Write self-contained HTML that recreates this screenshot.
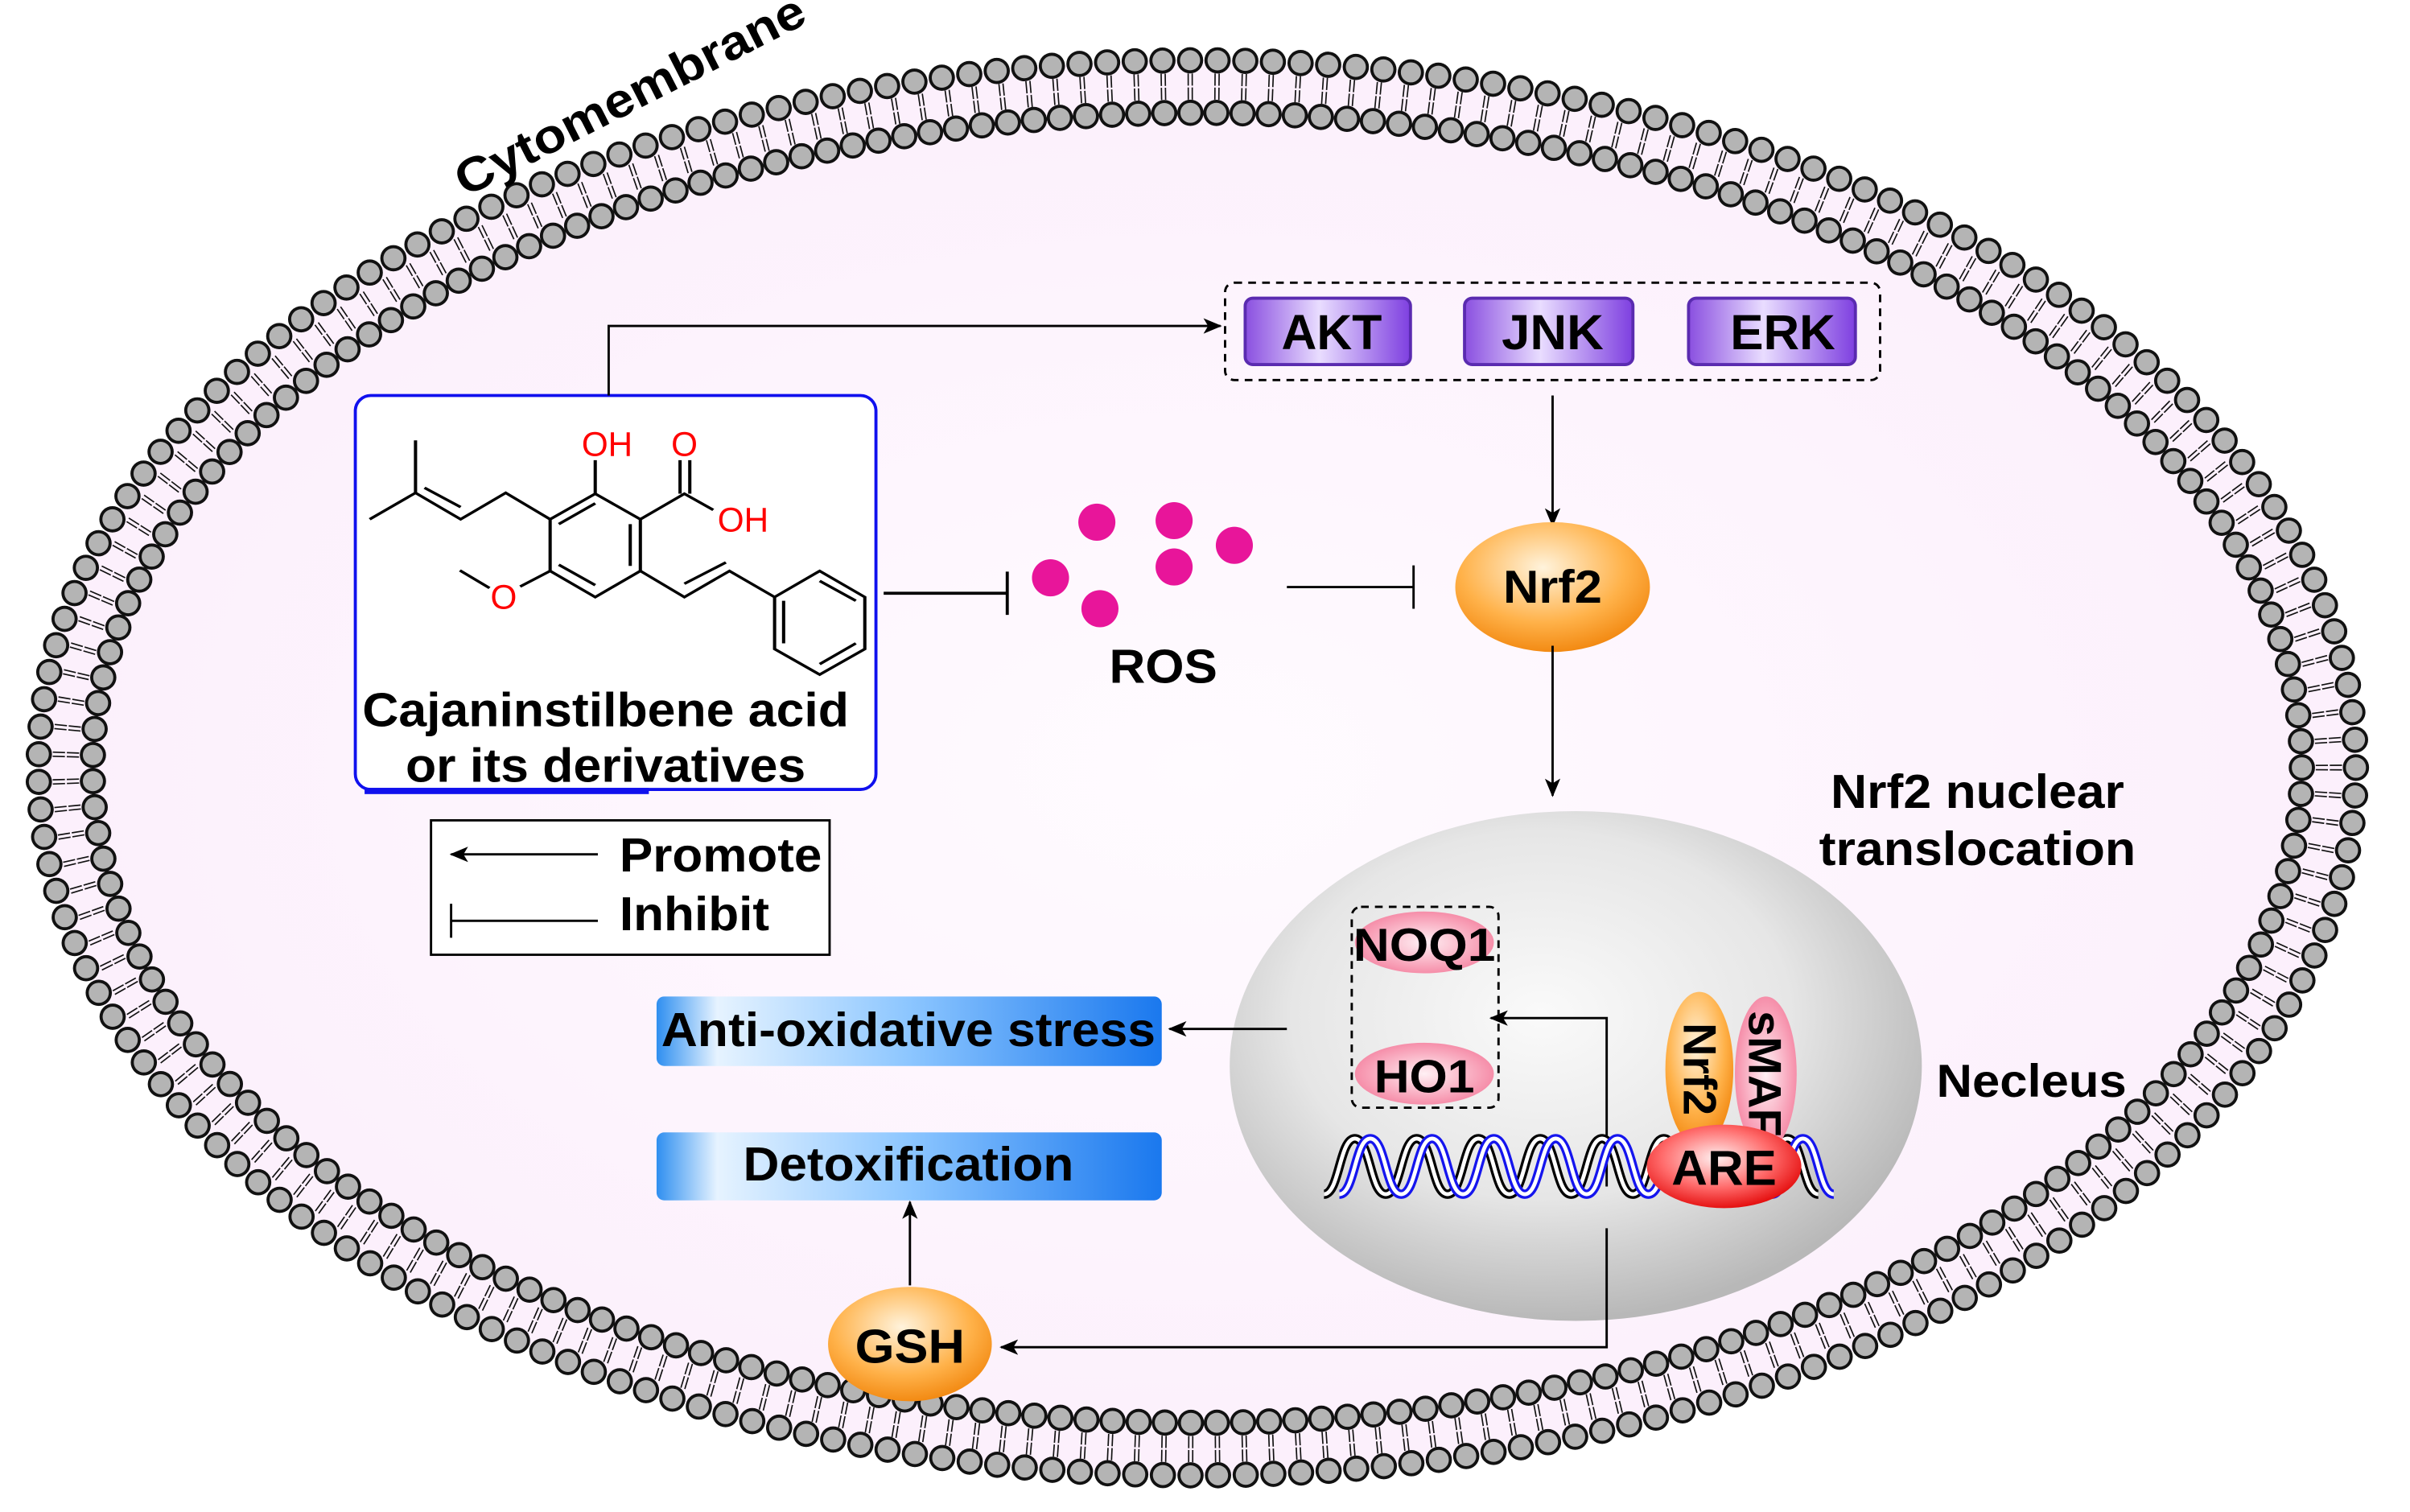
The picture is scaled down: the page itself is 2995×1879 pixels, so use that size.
<!DOCTYPE html>
<html><head><meta charset="utf-8"><style>
html,body{margin:0;padding:0;background:#fff}
svg{display:block}
text{font-family:"Liberation Sans",Arial,sans-serif;font-weight:bold}
</style></head><body>
<svg width="2995" height="1879" viewBox="0 0 1560 978.7" preserveAspectRatio="none" xmlns="http://www.w3.org/2000/svg">
<defs>
<linearGradient id="pur" x1="0" y1="0" x2="1" y2="0"><stop offset="0" stop-color="#8a4fe0"/><stop offset="0.45" stop-color="#e9ddff"/><stop offset="1" stop-color="#7e3fe0"/></linearGradient>
<radialGradient id="org" cx="0.45" cy="0.35" r="0.7"><stop offset="0" stop-color="#fff3dc"/><stop offset="0.6" stop-color="#ffb24a"/><stop offset="1" stop-color="#f08208"/></radialGradient>
<radialGradient id="pink" cx="0.5" cy="0.5" r="0.6"><stop offset="0" stop-color="#fff0f4"/><stop offset="1" stop-color="#f47a9a"/></radialGradient>
<radialGradient id="red" cx="0.45" cy="0.4" r="0.65"><stop offset="0" stop-color="#fff0f0"/><stop offset="0.55" stop-color="#ff6a6a"/><stop offset="1" stop-color="#e00000"/></radialGradient>
<radialGradient id="nuc" cx="0.45" cy="0.4" r="0.6"><stop offset="0" stop-color="#fafafa"/><stop offset="0.6" stop-color="#e6e6e6"/><stop offset="1" stop-color="#b8b8b8"/></radialGradient>
<radialGradient id="cell" cx="0.5" cy="0.5" r="0.5"><stop offset="0" stop-color="#fffbff"/><stop offset="1" stop-color="#fcf0fc"/></radialGradient>
<linearGradient id="blu" x1="0" y1="0" x2="1" y2="0"><stop offset="0" stop-color="#2f8ff0"/><stop offset="0.12" stop-color="#e6f3ff"/><stop offset="0.5" stop-color="#8cc6ff"/><stop offset="1" stop-color="#1a78ee"/></linearGradient>
<marker id="ar" markerWidth="12" markerHeight="10" refX="11" refY="5" orient="auto" markerUnits="userSpaceOnUse"><path d="M0,0 L12,5 L0,10 L3,5 Z" fill="#000"/></marker>
</defs>
<rect width="1560" height="978.7" fill="#fff"/>
<!-- cell interior -->
<ellipse cx="775" cy="497" rx="750" ry="458" fill="url(#cell)"/>
<!-- tails -->
<ellipse cx="775" cy="497" rx="732.5" ry="441" fill="none" stroke="#111" stroke-width="17" pathLength="215" stroke-dasharray="0.05 0.1 0.05 0.8" stroke-dashoffset="0.1"/>
<ellipse cx="775" cy="497" rx="732.5" ry="441" fill="none" stroke="#fcf0fc" stroke-width="1.2" pathLength="215"/>
<!-- beads -->
<ellipse cx="775" cy="497" rx="750" ry="458" fill="none" stroke="#111" stroke-width="17" stroke-linecap="round" pathLength="215" stroke-dasharray="0 1"/>
<ellipse cx="775" cy="497" rx="750" ry="458" fill="none" stroke="#b4b4b4" stroke-width="13" stroke-linecap="round" pathLength="215" stroke-dasharray="0 1"/>
<ellipse cx="775" cy="497" rx="715" ry="424" fill="none" stroke="#111" stroke-width="17" stroke-linecap="round" pathLength="215" stroke-dasharray="0 1"/>
<ellipse cx="775" cy="497" rx="715" ry="424" fill="none" stroke="#b4b4b4" stroke-width="13" stroke-linecap="round" pathLength="215" stroke-dasharray="0 1"/>
<text x="408" y="72" font-size="31" text-anchor="middle" textLength="250" lengthAdjust="spacingAndGlyphs" transform="rotate(-27 408 62)">Cytomembrane</text>

<!-- compound box -->
<rect x="230" y="256" width="337" height="255" rx="10" fill="#fff" stroke="#1010ee" stroke-width="2"/>
<rect x="236" y="510" width="184" height="4" fill="#1010ee"/>
<g transform="translate(209.4,235.4) scale(0.2336,0.1838)" stroke="#000" stroke-width="9" fill="none">
<path d="M255,270 L255,455 L128,548 M255,455 L380,548 L505,455 L628,548 M280,437 L380,505"/>
<path d="M628,548 L753,458 L878,548 L878,730 L753,822 L628,730 Z M652,565 L753,492 M850,565 L850,712 M652,708 L753,780"/>
<path d="M753,458 L753,340 M878,548 L1000,458 L1080,515 M988,340 L988,458 M1015,340 L1015,458"/>
<path d="M628,730 L545,785 M460,790 L378,728"/>
<path d="M878,730 L1000,822 L1125,730 L1250,822 M1000,775 L1115,700"/>
<path d="M1250,822 L1375,730 L1500,822 L1500,1005 L1375,1095 L1250,1005 Z M1375,765 L1475,835 M1275,835 L1275,985 M1375,1058 L1475,985"/>
</g>
<g fill="#f00" style="font-weight:normal">
<text x="393" y="295" font-size="22" text-anchor="middle" style="font-weight:normal">OH</text>
<text x="443" y="295" font-size="22" text-anchor="middle" style="font-weight:normal">O</text>
<text x="481" y="344" font-size="22" text-anchor="middle" style="font-weight:normal">OH</text>
<text x="326" y="394" font-size="22" text-anchor="middle" style="font-weight:normal">O</text>
</g>
<text x="392" y="470" font-size="31" text-anchor="middle" textLength="315" lengthAdjust="spacingAndGlyphs">Cajaninstilbene acid</text>
<text x="392" y="506" font-size="31" text-anchor="middle" textLength="259" lengthAdjust="spacingAndGlyphs">or its derivatives</text>

<!-- connectors top -->
<path d="M394,256 L394,211 L790,211" fill="none" stroke="#000" stroke-width="1.5" marker-end="url(#ar)"/>
<rect x="793" y="183" width="424" height="63" rx="6" fill="none" stroke="#000" stroke-width="1.5" stroke-dasharray="5 4"/>
<g stroke="#5a2bb0" stroke-width="2">
<rect x="806" y="193" width="107" height="43" rx="5" fill="url(#pur)"/>
<rect x="948" y="193" width="109" height="43" rx="5" fill="url(#pur)"/>
<rect x="1093" y="193" width="108" height="43" rx="5" fill="url(#pur)"/>
</g>
<text x="862" y="226" font-size="32" text-anchor="middle" textLength="65" lengthAdjust="spacingAndGlyphs">AKT</text>
<text x="1005" y="226" font-size="32" text-anchor="middle" textLength="66" lengthAdjust="spacingAndGlyphs">JNK</text>
<text x="1154" y="226" font-size="32" text-anchor="middle" textLength="68" lengthAdjust="spacingAndGlyphs">ERK</text>
<path d="M1005,256 L1005,340" stroke="#000" stroke-width="1.5" marker-end="url(#ar)"/>
<ellipse cx="1005" cy="380" rx="63" ry="42" fill="url(#org)"/>
<text x="1005" y="390" font-size="30" text-anchor="middle" textLength="64" lengthAdjust="spacingAndGlyphs">Nrf2</text>
<path d="M1005,418 L1005,515" stroke="#000" stroke-width="1.5" marker-end="url(#ar)"/>

<!-- inhibit lines & ROS -->
<path d="M572,384 L652,384 M652,370 L652,398" stroke="#000" stroke-width="2" fill="none"/>
<g fill="#e8159a">
<circle cx="710" cy="338" r="12"/><circle cx="760" cy="337" r="12"/><circle cx="799" cy="353" r="12"/>
<circle cx="680" cy="374" r="12"/><circle cx="760" cy="367" r="12"/><circle cx="712" cy="394" r="12"/>
</g>
<text x="753" y="442" font-size="31" text-anchor="middle" textLength="70" lengthAdjust="spacingAndGlyphs">ROS</text>
<path d="M833,380 L915,380 M915,366 L915,394" stroke="#000" stroke-width="1.5" fill="none"/>

<text x="1280" y="523" font-size="31" text-anchor="middle" textLength="190" lengthAdjust="spacingAndGlyphs">Nrf2 nuclear</text>
<text x="1280" y="560" font-size="31" text-anchor="middle" textLength="205" lengthAdjust="spacingAndGlyphs">translocation</text>

<!-- legend -->
<rect x="279" y="531" width="258" height="87" fill="#fff" stroke="#000" stroke-width="1.5"/>
<path d="M387,553 L292,553" stroke="#000" stroke-width="1.5" marker-end="url(#ar)"/>
<path d="M387,596 L292,596 M292,585 L292,607" stroke="#000" stroke-width="1.5" fill="none"/>
<text x="401" y="564" font-size="31" textLength="131" lengthAdjust="spacingAndGlyphs">Promote</text>
<text x="401" y="602" font-size="31" textLength="97" lengthAdjust="spacingAndGlyphs">Inhibit</text>

<!-- nucleus -->
<ellipse cx="1020" cy="690" rx="224" ry="165" fill="url(#nuc)"/>
<rect x="875" y="587" width="95" height="130" rx="6" fill="none" stroke="#000" stroke-width="1.5" stroke-dasharray="5 4"/>
<ellipse cx="922" cy="610" rx="45" ry="20" fill="url(#pink)"/>
<text x="922" y="622" font-size="30" text-anchor="middle" textLength="92" lengthAdjust="spacingAndGlyphs">NOQ1</text>
<ellipse cx="922" cy="695" rx="45" ry="20" fill="url(#pink)"/>
<text x="922" y="707" font-size="30" text-anchor="middle" textLength="65" lengthAdjust="spacingAndGlyphs">HO1</text>
<path d="M1040,768 L1040,659 L965,659" fill="none" stroke="#000" stroke-width="1.5" marker-end="url(#ar)"/>
<!-- DNA -->
<g fill="none">
<path id="s1" d="M857,773 c10,0 10,-36 20,-36 s10,36 20,36 s10,-36 20,-36 s10,36 20,36 s10,-36 20,-36 s10,36 20,36 s10,-36 20,-36 s10,36 20,36 s10,-36 20,-36 s10,36 20,36 s10,-36 20,-36 s10,36 20,36 s10,-36 20,-36 s10,36 20,36 s10,-36 20,-36 s10,36 20,36" stroke="#000" stroke-width="6"/>
<path d="M857,773 c10,0 10,-36 20,-36 s10,36 20,36 s10,-36 20,-36 s10,36 20,36 s10,-36 20,-36 s10,36 20,36 s10,-36 20,-36 s10,36 20,36 s10,-36 20,-36 s10,36 20,36 s10,-36 20,-36 s10,36 20,36 s10,-36 20,-36 s10,36 20,36 s10,-36 20,-36 s10,36 20,36" stroke="#fff" stroke-width="2.5"/>
<path d="M867,773 c10,0 10,-36 20,-36 s10,36 20,36 s10,-36 20,-36 s10,36 20,36 s10,-36 20,-36 s10,36 20,36 s10,-36 20,-36 s10,36 20,36 s10,-36 20,-36 s10,36 20,36 s10,-36 20,-36 s10,36 20,36 s10,-36 20,-36 s10,36 20,36 s10,-36 20,-36 s10,36 20,36" stroke="#1515ee" stroke-width="6"/>
<path d="M867,773 c10,0 10,-36 20,-36 s10,36 20,36 s10,-36 20,-36 s10,36 20,36 s10,-36 20,-36 s10,36 20,36 s10,-36 20,-36 s10,36 20,36 s10,-36 20,-36 s10,36 20,36 s10,-36 20,-36 s10,36 20,36 s10,-36 20,-36 s10,36 20,36 s10,-36 20,-36 s10,36 20,36" stroke="#fff" stroke-width="2.5"/>
</g>
<ellipse cx="1143" cy="695" rx="20" ry="50" fill="url(#pink)"/>
<text transform="translate(1132,695) rotate(90)" font-size="30" text-anchor="middle">sMAF</text>
<ellipse cx="1100" cy="692" rx="22" ry="50" fill="url(#org)"/>
<text transform="translate(1090,692) rotate(90)" font-size="30" text-anchor="middle">Nrf2</text>
<ellipse cx="1116" cy="755" rx="50" ry="27" fill="url(#red)"/>
<text x="1116" y="767" font-size="32" text-anchor="middle" textLength="68" lengthAdjust="spacingAndGlyphs">ARE</text>
<text x="1315" y="710" font-size="30" text-anchor="middle" textLength="123" lengthAdjust="spacingAndGlyphs">Necleus</text>

<!-- outputs -->
<path d="M833,666 L757,666" stroke="#000" stroke-width="1.5" marker-end="url(#ar)"/>
<rect x="425" y="645" width="327" height="45" rx="5" fill="url(#blu)"/>
<text x="588" y="677" font-size="31" text-anchor="middle" textLength="320" lengthAdjust="spacingAndGlyphs">Anti-oxidative stress</text>
<rect x="425" y="733" width="327" height="44" rx="5" fill="url(#blu)"/>
<text x="588" y="764" font-size="31" text-anchor="middle" textLength="214" lengthAdjust="spacingAndGlyphs">Detoxification</text>
<path d="M589,832 L589,778" stroke="#000" stroke-width="1.5" marker-end="url(#ar)"/>
<path d="M1040,795 L1040,872 L648,872" fill="none" stroke="#000" stroke-width="1.5" marker-end="url(#ar)"/>
<ellipse cx="589" cy="870" rx="53" ry="37" fill="url(#org)"/>
<text x="589" y="882" font-size="31" text-anchor="middle" textLength="71" lengthAdjust="spacingAndGlyphs">GSH</text>
</svg>
</body></html>
